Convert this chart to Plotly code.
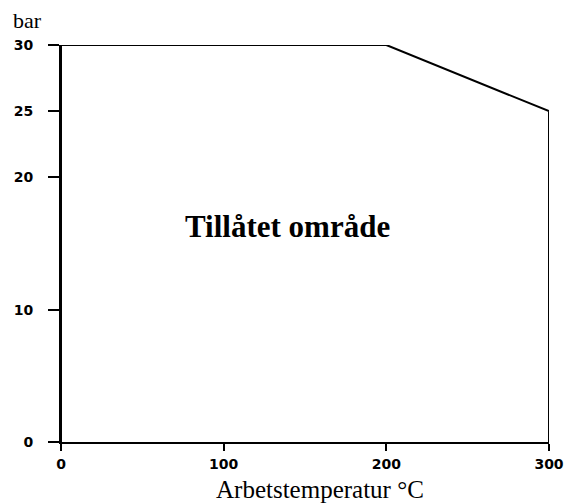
import plotly.graph_objects as go

# Boundary of the permitted region (temperature °C, pressure bar)
temp = [0, 0, 200, 300, 300]
pressure = [0, 30, 30, 25, 0]

x_ticks = [0, 100, 200, 300]
y_ticks = [0, 10, 20, 25, 30]

region_label = "Tillåtet område"
x_title = "Arbetstemperatur °C"
y_title = "bar"

fig = go.Figure()
fig.add_trace(go.Scatter(
    x=temp, y=pressure, mode="lines",
    line=dict(color="black", width=2),
    cliponaxis=False, showlegend=False, hoverinfo="skip",
))

tickfont = dict(family="DejaVu Sans", size=14, color="black", weight="bold")

fig.update_layout(
    width=564, height=504,
    margin=dict(l=61, r=15, t=45, b=62, autoexpand=False),
    paper_bgcolor="white", plot_bgcolor="white",
    xaxis=dict(
        range=[0, 300], tickvals=x_ticks, ticktext=[str(v) for v in x_ticks],
        showgrid=False, zeroline=False, showline=True, linecolor="black", linewidth=2,
        ticks="outside", ticklen=7, tickwidth=1.5, tickcolor="black",
        tickfont=tickfont, automargin=False, ticklabelstandoff=1,
    ),
    yaxis=dict(
        range=[0, 30], tickvals=y_ticks, ticktext=[str(v) for v in y_ticks],
        showgrid=False, zeroline=False, showline=True, linecolor="black", linewidth=2,
        ticks="outside", ticklen=11, tickwidth=1.5, tickcolor="black",
        tickfont=tickfont, automargin=False, ticklabelstandoff=12,
    ),
    annotations=[
        dict(text=region_label, x=139, y=16.3, xref="x", yref="y",
             showarrow=False, font=dict(family="Liberation Serif", size=31, color="black", weight="bold")),
        dict(text=x_title, x=0.531, y=-0.12, xref="paper", yref="paper",
             xanchor="center", yanchor="middle", showarrow=False,
             font=dict(family="Liberation Serif", size=25, color="black")),
        dict(text=y_title, x=-0.102, y=1.062, xref="paper", yref="paper",
             xanchor="left", yanchor="middle", showarrow=False,
             font=dict(family="Liberation Serif", size=22, color="black")),
    ],
)

fig.write_html("out.html", config={"displayModeBar": False},
               post_script="document.body.style.margin='0';document.body.style.overflow='hidden';")
